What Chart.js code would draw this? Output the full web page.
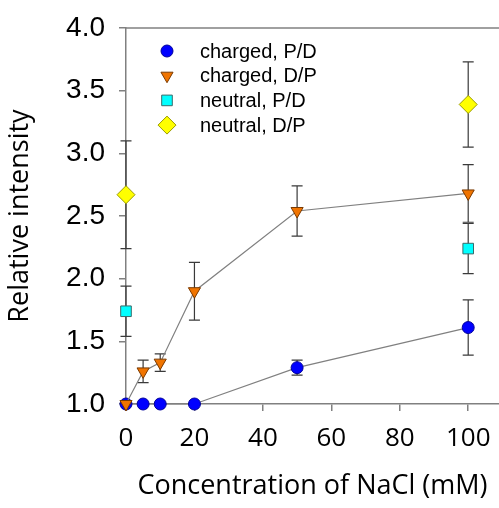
<!DOCTYPE html>
<html>
<head>
<meta charset="utf-8">
<script src="https://cdn.jsdelivr.net/npm/chart.js@4/dist/chart.umd.min.js"></script>
<style>
  html, body { margin: 0; padding: 0; background: #ffffff; }
  #wrap { width: 499px; height: 508px; }
</style>
</head>
<body>
<div id="wrap"><canvas id="c" width="499" height="508"></canvas></div>
<script>
// ---- data ----
const xCharged = [0, 5, 10, 20, 50, 100];
const chargedPD = [1.0, 1.0, 1.0, 1.0, 1.29, 1.61];
const chargedPDErr = [0, 0, 0, 0, 0.06, 0.22];
const chargedDP = [1.0, 1.26, 1.33, 1.90, 2.54, 2.68];
const chargedDPErr = [0, 0.09, 0.07, 0.23, 0.20, 0.23];
const xNeutral = [0, 100];
const neutralPD = [1.74, 2.24];
const neutralPDErr = [0.20, 0.20];
const neutralDP = [2.67, 3.39];
const neutralDPErr = [0.43, 0.34];
const seriesLabels = ['charged, P/D', 'charged, D/P', 'neutral, P/D', 'neutral, D/P'];
const xTicks = [0, 20, 40, 60, 80, 100];
const yTicks = [1.0, 1.5, 2.0, 2.5, 3.0, 3.5, 4.0];
const xTitle = 'Concentration of NaCl (mM)';
const yTitle = 'Relative intensity';

const toPts = (xs, ys) => xs.map((x, i) => ({ x: x, y: ys[i] }));

const datasets = [
  { label: seriesLabels[0], data: toPts(xCharged, chargedPD), errors: chargedPDErr,
    showLine: true, borderColor: '#808080', borderWidth: 1.2,
    pointStyle: 'circle', pointRadius: 6, pointBackgroundColor: '#0000ff',
    pointBorderColor: '#00009a', pointBorderWidth: 1, order: 1, clip: false },
  { label: seriesLabels[1], data: toPts(xCharged, chargedDP), errors: chargedDPErr,
    showLine: true, borderColor: '#808080', borderWidth: 1.2,
    pointStyle: 'triangle', pointRotation: 180, pointRadius: 7, pointBackgroundColor: '#f07400',
    pointBorderColor: '#7a3a00', pointBorderWidth: 1, order: 0, clip: false },
  { label: seriesLabels[2], data: toPts(xNeutral, neutralPD), errors: neutralPDErr,
    showLine: false, pointStyle: 'rect', pointRadius: 7.5, pointBackgroundColor: '#00ffff',
    pointBorderColor: '#3a6a6a', pointBorderWidth: 1, order: 0, clip: false },
  { label: seriesLabels[3], data: toPts(xNeutral, neutralDP), errors: neutralDPErr,
    showLine: false, pointStyle: 'rectRot', pointRadius: 9, pointBackgroundColor: '#ffff00',
    pointBorderColor: '#9a9a00', pointBorderWidth: 1, order: 0, clip: false }
];

const errorBars = {
  id: 'errorBars',
  beforeDatasetsDraw(chart) {
    const { ctx, scales: { x, y } } = chart;
    ctx.save();
    ctx.strokeStyle = '#3a3a3a';
    ctx.lineWidth = 1.2;
    chart.data.datasets.forEach(ds => {
      (ds.errors || []).forEach((e, i) => {
        if (!e) return;
        const p = ds.data[i];
        const px = x.getPixelForValue(p.x);
        const t = y.getPixelForValue(p.y + e);
        const b = y.getPixelForValue(p.y - e);
        const cw = 5.5;
        ctx.beginPath();
        ctx.moveTo(px, t); ctx.lineTo(px, b);
        ctx.moveTo(px - cw, t); ctx.lineTo(px + cw, t);
        ctx.moveTo(px - cw, b); ctx.lineTo(px + cw, b);
        ctx.stroke();
      });
    });
    ctx.restore();
  }
};

const frameAndLegend = {
  id: 'frameAndLegend',
  afterDraw(chart) {
    const { ctx, chartArea: a } = chart;
    ctx.save();
    // top frame line
    ctx.strokeStyle = '#808080';
    ctx.lineWidth = 1.5;
    ctx.beginPath();
    ctx.moveTo(a.left, a.top);
    ctx.lineTo(a.right, a.top);
    ctx.stroke();
    // legend
    ctx.font = '20px "Liberation Sans", Arial, sans-serif';
    ctx.textBaseline = 'middle';
    ctx.textAlign = 'left';
    chart.data.datasets.forEach((ds, i) => {
      const mx = a.left + 41;
      const my = a.top + 23 + i * 24.7;
      ctx.fillStyle = ds.pointBackgroundColor;
      ctx.strokeStyle = ds.pointBorderColor;
      ctx.lineWidth = 1;
      Chart.helpers.drawPoint(ctx, {
        pointStyle: ds.pointStyle,
        rotation: ds.pointRotation || 0,
        radius: ds.pointRadius,
        borderWidth: 1
      }, mx, my);
      ctx.fillStyle = '#000000';
      ctx.fillText(ds.label, a.left + 74, my + 1);
    });
    ctx.restore();
  }
};

new Chart(document.getElementById('c'), {
  type: 'scatter',
  data: { datasets: datasets },
  options: {
    responsive: false,
    devicePixelRatio: 1,
    animation: false,
    layout: { autoPadding: false, padding: { left: 0, right: 0, top: 28, bottom: 0 } },
    plugins: { legend: { display: false }, tooltip: { enabled: false } },
    scales: {
      x: {
        type: 'linear', min: 0, max: 109,
        afterBuildTicks: s => { s.ticks = xTicks.map(v => ({ value: v })); },
        afterFit: s => { s.height = 104; s.paddingRight = 0; s.paddingLeft = 0; },
        grid: { drawOnChartArea: false, drawTicks: true, tickLength: 7, color: '#808080', lineWidth: 1.5 },
        border: { display: true, color: '#808080', width: 1.5 },
        ticks: { color: '#000000', padding: 12, maxRotation: 0,
                 font: { family: '"Open Sans", sans-serif', size: 26 } },
        title: { display: true, text: xTitle, color: '#000000',
                 padding: { top: 5, bottom: 5 },
                 font: { family: '"Open Sans", sans-serif', size: 27, lineHeight: 1.2 } }
      },
      y: {
        type: 'linear', min: 1, max: 4,
        afterBuildTicks: s => { s.ticks = yTicks.map(v => ({ value: v })); },
        afterFit: s => { s.width = 126; s.paddingTop = 0; s.paddingBottom = 0; },
        grid: { drawOnChartArea: false, drawTicks: true, tickLength: 7, color: '#808080', lineWidth: 1.5 },
        border: { display: true, color: '#808080', width: 1.5 },
        ticks: { color: '#000000', padding: 14,
                 callback: v => Number(v).toFixed(1),
                 font: { family: '"Liberation Sans", Arial, sans-serif', size: 28 } },
        title: { display: true, text: yTitle, color: '#000000',
                 padding: { top: 4, bottom: 4 },
                 font: { family: '"Open Sans", sans-serif', size: 27, lineHeight: 1.2 } }
      }
    }
  },
  plugins: [errorBars, frameAndLegend]
});
</script>
</body>
</html>
